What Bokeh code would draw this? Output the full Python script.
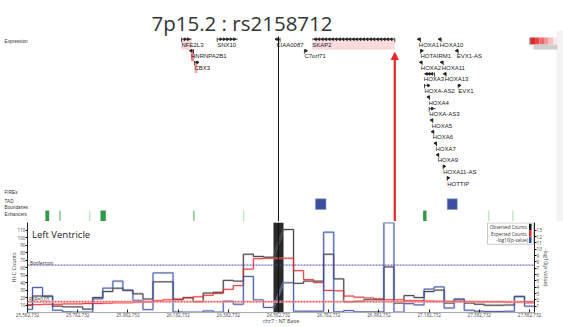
import numpy as np
from bokeh.plotting import figure
from bokeh.layouts import column
from bokeh.models import Range1d, LinearAxis, FixedTicker, NumeralTickFormatter, Arrow, NormalHead, Span
from bokeh.core.properties import value
from bokeh.embed import file_html
from bokeh.resources import INLINE

# ---------------- data ----------------
title_text = "7p15.2 : rs2158712"
tissue = "Left Ventricle"
snp_pos = 26582732
view_start = 25582732
view_end = 27602732
bin_size = 40000
first_bin_start = 25562732
anchor_bin = 25
nan = float("nan")

observed_counts = [10, 22, 22, 8.5, 7.5, 7.5, 4.5, 20, 28, 32.5, 29.5, 25, 18, 41, 41,
                   17, 20, 14.5, 26, 27, 43, 42, 78, 75, 74,
                   nan,
                   111, 39, 42, 42, 78, 45, 14, 15, 17, 17, 61,
                   12.6, 22.6, 20, 28, 30, 12.6, 18, 12.6, 11, 9.7, 9.7, 10, 21.6, 14]
expected_counts = [10, 10.5, 11, 11, 11.5, 11.5, 12, 12, 12.5, 13, 13, 13.5, 14, 16, 17,
                   18, 19.5, 21, 23, 25.5, 31, 36, 58, 72, 72.6,
                   72.6,
                   72.6, 56, 44, 40, 29.5, 29, 22, 20.5, 19.5, 18.3, 17,
                   17, 16, 16, 15.5, 15, 15, 14.5, 14.5, 14, 14, 14, 13.5, 13.5, 13]
neglog10_p = [0.5, 3.95, 2.56, 0.35, 0.1, 0.05, 0.05, 2.15, 3.85, 4.97, 3.54, 1.92, 0.45, 6.26, 6.26,
              0.08, 0.05, 0.05, 0.25, 0.05, 1.8, 1.3, 5.7, 2.0, 0.8,
              nan,
              4.7, 0.2, 0.2, 0.2, 12.7, 0.1, 0.3, 0.1, 0.1, 0.1, 14.2,
              0.05, 1.4, 1.2, 3.7, 4.05, 0.7, 2.0, 0.36, 0.2, 0.15, 0.15, 0.2, 2.5, 1.0]
bonferroni_level = 7.5
fdr_level = 1.7

x_ticks = [25582732 + 200000 * k for k in range(11)]
count_ticks = [10, 20, 30, 40, 50, 60, 70, 80, 90, 100, 110]
pval_ticks = [1, 2, 3, 4, 5, 6, 7, 8, 9, 10, 11, 12, 13]

gene_names = ["NFE2L3", "SNX10", "HNRNPA2B1", "CBX3", "KIAA0087", "C7orf71", "SKAP2",
              "HOXA1", "HOXA10", "HOTAIRM1", "EVX1-AS", "HOXA2", "HOXA11", "HOXA3", "HOXA13",
              "HOXA-AS2", "EVX1", "HOXA4", "HOXA-AS3", "HOXA5", "HOXA6", "HOXA7", "HOXA9",
              "HOXA11-AS", "HOTTIP"]
gene_start = [26196300, 26338540, 26234000, 26248100, 26575000, 26686000, 26717000,
              27142000, 27225000, 27148500, 27293000, 27150000, 27233000, 27161700, 27245000,
              27164500, 27298700, 27180000, 27183200, 27193000, 27197000, 27208000, 27217000,
              27238960, 27254900]
gene_end = [26236140, 26420610, 26244000, 26260000, 26589000, 26692000, 27046100,
            27148500, 27231000, 27154000, 27298700, 27155300, 27239000, 27204300, 27250900,
            27180400, 27304000, 27184400, 27208300, 27197500, 27201500, 27212300, 27221400,
            27243000, 27259000]
gene_strand = [1, 1, -1, 1, -1, 1, -1,
               -1, -1, 1, -1, -1, -1, -1, -1,
               1, 1, -1, 1, -1, -1, -1, -1,
               1, 1]
gene_row = [0, 0, 1, 2, 0, 1, 0,
            0, 0, 1, 1, 2, 2, 3, 3,
            4, 4, 5, 6, 7, 8, 9, 10,
            11, 12]
expr_genes = ["NFE2L3", "HNRNPA2B1", "CBX3", "SKAP2"]
expr_level = [0.15, 0.6, 0.4, 0.12]

tad_start = [26730000, 27255000]
tad_end = [26772000, 27295000]

enh_start = [25654000, 25710000, 25829000, 25873500, 26243500, 26442500, 27159000, 27418500, 27514500]
enh_end = [25669000, 25714500, 25833000, 25894700, 26248000, 26446500, 27172400, 27422500, 27518500]
enh_strength = [3, 2, 1, 3, 2, 1, 3, 1, 1]

# ---------------- layout helpers (page pixel -> data) ----------------
BP_PER_PX = (view_end - view_start) / 507.0
def gx(px):
    return view_start + (px - 27) * BP_PER_PX

BASE_Y = 311.0
K_CNT = (BASE_Y - 229.7) / 110.0
K_P = (BASE_Y - 229.7) / 13.0
CNT_MAX = (BASE_Y - 222.0) / K_CNT
P_MAX = (BASE_Y - 222.0) / K_P
def cnt(py):
    return (BASE_Y - py) / K_CNT
def pv(py):
    return (BASE_Y - py) / K_P

FONT = value("Open Sans")
ARIAL = value("Liberation Sans")

# ---------------- top (tracks) ----------------
top = figure(width=563, height=221, x_range=Range1d(gx(0), gx(563)), y_range=Range1d(221, 0),
             toolbar_location=None, output_backend="svg", min_border=0,
             outline_line_color=None, x_axis_location=None, y_axis_location=None)
top.frame_align = False
top.xgrid.visible = False
top.ygrid.visible = False

top.quad(left=[gx(556)], right=[gx(563)], top=[30], bottom=[221], color="#f3f3f3", line_color=None)

top.text(x=[gx(241.5)], y=[22], text=[title_text], text_font=FONT, text_font_size="20.5px",
         text_align="center", text_baseline="middle", text_color="#333333")

top.text(x=[gx(4)] * 5, y=[41, 191.7, 200.7, 206.7, 214],
         text=["Expression", "FIREs", "TAD", "Boundaries", "Enhancers"],
         text_font=ARIAL, text_font_size="4.7px", text_baseline="middle", text_color="#333333")

row_y = [44.3 + 11.56 * r for r in gene_row]

def expr_color(v):
    c0 = np.array([253, 240, 241]); c1 = np.array([232, 60, 70])
    c = c0 + (c1 - c0) * v
    return "#%02x%02x%02x" % tuple(int(t) for t in c)
for name, lev in zip(expr_genes, expr_level):
    i = gene_names.index(name)
    l = min(gene_start[i], gene_end[i]); r = max(gene_end[i], l + 3 * BP_PER_PX)
    top.quad(left=[l], right=[r], top=[row_y[i] - 6.8], bottom=[row_y[i] + 5],
             color=expr_color(lev), line_color=None)

mk_y = [y - 5.6 for y in row_y]
top.segment(x0=gene_start, y0=mk_y, x1=gene_end, y1=mk_y, line_color="#222222", line_width=0.8)
tss = [s if st > 0 else e for s, e, st in zip(gene_start, gene_end, gene_strand)]
top.segment(x0=tss, y0=[y - 1.5 for y in mk_y], x1=tss, y1=[y + 3 for y in mk_y],
            line_color="#222222", line_width=0.8)
ax, ay, aa = [], [], []
for s, e, st, y in zip(gene_start, gene_end, gene_strand, mk_y):
    length_px = (e - s) / BP_PER_PX
    n = max(1, int(length_px // 3.5))
    pts = np.linspace(s, e, n + 2)[1:-1] if n > 1 else [(s + e) / 2 if length_px > 4 else (s if st < 0 else e)]
    for p_ in pts:
        ax.append(p_); ay.append(y); aa.append(-np.pi / 2 if st > 0 else np.pi / 2)
top.scatter(x=ax, y=ay, angle=aa, marker="triangle", size=2.6, color="#222222")

top.text(x=[min(s, e) for s, e in zip(gene_start, gene_end)], y=row_y, text=gene_names,
         text_font=ARIAL, text_font_size="6px", text_baseline="middle", text_color="#222222")

top.quad(left=tad_start, right=tad_end, top=[198.3] * 2, bottom=[209] * 2,
         color="#3a4fa0", line_color="#8e9bd0", line_width=0.6)

enh_colors = {1: "#a9d9ae", 2: "#5cb56a", 3: "#2f9a47"}
top.quad(left=enh_start, right=enh_end, top=[210] * len(enh_start), bottom=[221] * len(enh_start),
         color=[enh_colors[s] for s in enh_strength], line_color=None)

heat_cols = ["#e0282e", "#e8464a", "#ee6a6d", "#f39497", "#f8bfc0", "#fde6e6"]
edges = np.linspace(gx(530), gx(557), len(heat_cols) + 1)
top.quad(left=edges[:-1], right=edges[1:], top=[37] * 6, bottom=[44] * 6, color=heat_cols, line_color=None)
top.quad(left=[gx(533)], right=[gx(557)], top=[44], bottom=[49], color="#cfcfcf", line_color=None)
top.segment(x0=[gx(529.5)], y0=[37], x1=[gx(529.5)], y1=[44], line_color="#333333", line_width=0.8)

top.segment(x0=[snp_pos], y0=[36], x1=[snp_pos], y1=[221], line_color="#111111", line_width=1)
skap = gene_names.index("SKAP2")
top.add_layout(Arrow(end=NormalHead(size=7, fill_color="#e8262b", line_color="#e8262b"),
                     x_start=gene_end[skap], y_start=221, x_end=gene_end[skap], y_end=52,
                     line_color="#e8262b", line_width=2.2))

# ---------------- bottom (Hi-C) ----------------
bot = figure(width=563, height=106, x_range=Range1d(view_start, view_end), y_range=Range1d(0, CNT_MAX),
             toolbar_location=None, output_backend="svg", min_border_left=27, min_border_right=29,
             min_border_top=1, min_border_bottom=0, outline_line_color=None, y_axis_location=None)
bot.frame_align = False
bot.extra_y_ranges = {"pval": Range1d(0, P_MAX)}
bot.xgrid.visible = False
bot.ygrid.visible = False

xa = bot.xaxis[0]
xa.ticker = FixedTicker(ticks=x_ticks)
xa.formatter = NumeralTickFormatter(format="0,0")
xa.axis_line_color = "#aaaaaa"
xa.major_tick_in = 3
xa.major_tick_out = 0
xa.major_tick_line_color = "#222222"
xa.minor_tick_line_color = None
xa.major_label_text_font = "Open Sans"
xa.major_label_text_font_size = "4.6px"
xa.major_label_standoff = 0
xa.axis_label = "chr7 : NT Base"
xa.axis_label_text_font = "Open Sans"
xa.axis_label_text_font_size = "5.5px"
xa.axis_label_text_font_style = "normal"
xa.axis_label_standoff = -3

la = LinearAxis(ticker=FixedTicker(ticks=count_ticks), axis_label="Hi-C Counts")
ra = LinearAxis(y_range_name="pval", ticker=FixedTicker(ticks=pval_ticks), axis_label="-log10(p-value)")
for a in (la, ra):
    a.major_tick_out = 2
    a.major_tick_in = 0
    a.minor_tick_line_color = None
    a.axis_line_color = "#222222"
    a.major_label_text_font = "Open Sans"
    a.major_label_text_font_size = "4.6px"
    a.major_label_standoff = 0
    a.axis_label_text_font = "Open Sans"
    a.axis_label_text_font_size = "5.5px"
    a.axis_label_text_font_style = "normal"
    a.axis_label_standoff = -3
bot.add_layout(la, "left")
bot.add_layout(ra, "right")

a_s = first_bin_start + anchor_bin * bin_size
bot.quad(left=[a_s], right=[a_s + bin_size], bottom=[0], top=[CNT_MAX], color="#2a2a2a", line_color=None)

def step_path(vals, skip_anchor):
    xs, ys = [], []
    for i, v in enumerate(vals):
        if skip_anchor and i == anchor_bin:
            continue
        s = first_bin_start + i * bin_size
        xs += [s, s + bin_size]
        ys += [v, v]
    return xs, ys

ox, oy = step_path(observed_counts, True)
ex, ey = step_path(expected_counts, False)
px_, py_ = step_path(neglog10_p, True)

bot.line(ox, oy, line_color="#9a9a9a", line_width=2.4, line_alpha=0.4)
bot.line(ex, ey, line_color="#f4a0a0", line_width=2.4, line_alpha=0.4)
bot.line(px_, py_, line_color="#aab6e2", line_width=2.4, line_alpha=0.5, y_range_name="pval")
bot.line(ox, oy, line_color="#333333", line_width=0.9)
bot.line(ex, ey, line_color="#e8262b", line_width=0.9)
bot.line(px_, py_, line_color="#3b4ea3", line_width=0.9, y_range_name="pval")

bot.add_layout(Span(location=bonferroni_level, dimension="width", y_range_name="pval",
                    line_color="#5b3fae", line_dash="2 1", line_width=1))
bot.add_layout(Span(location=fdr_level, dimension="width", y_range_name="pval",
                    line_color="#f7b0b0", line_dash="2 1", line_width=2.4))
bot.add_layout(Span(location=fdr_level, dimension="width", y_range_name="pval",
                    line_color="#ee4444", line_dash="2 1", line_width=1))

bot.add_layout(Span(location=snp_pos, dimension="height", line_color="#111111", line_width=1))

bot.text(x=[gx(31.5)], y=[cnt(233.5)], text=[tissue], text_font=FONT, text_font_size="9.5px",
         text_baseline="middle", text_color="#222222")
bot.text(x=[gx(29.5), gx(28.5)], y=[pv(262), pv(297.5)], text=["Bonferroni", "FDR=0.05"],
         y_range_name="pval", text_font=FONT, text_font_size="4.6px", text_baseline="middle",
         text_color="#333333")

bot.quad(left=[gx(487)], right=[gx(533)], top=[cnt(222.5)], bottom=[cnt(243.5)],
         fill_color="white", line_color="#bbbbbb", line_width=0.8)
bot.text(x=[gx(527.5)] * 3, y=[cnt(226.7), cnt(233), cnt(239.3)],
         text=["Observed  Counts", "Expected  Counts", "-log10(p-value)"],
         text_font=FONT, text_font_size="4.6px", text_align="right", text_baseline="middle",
         text_color="#333333")
bot.quad(left=[gx(528.5)] * 3, right=[gx(531)] * 3,
         top=[cnt(223.3), cnt(230), cnt(236)], bottom=[cnt(230), cnt(236), cnt(242.3)],
         color=["#111111", "#e8262b", "#3b4ea3"], line_color=None)

layout = column(top, bot)
open("out.html", "w").write(file_html(layout, INLINE))
